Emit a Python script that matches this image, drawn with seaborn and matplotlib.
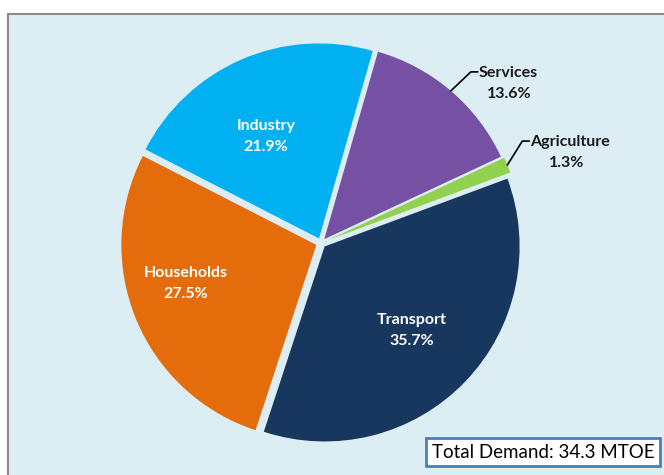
import numpy as np
import matplotlib
matplotlib.use("Agg")
import matplotlib.pyplot as plt
import seaborn as sns
from matplotlib.patches import Rectangle

# sector shares of final energy demand (%)
sectors = ["Services", "Agriculture", "Transport", "Households", "Industry"]
shares = [13.6, 1.3, 35.7, 27.5, 21.9]
colors = ["#7650A2", "#92D050", "#17375E", "#E46C0A", "#00B0F0"]
inside = ["Transport", "Households", "Industry"]
total_label = "Total Demand: 34.3 MTOE"

sns.set_theme(style="white")
plt.rcParams["font.family"] = ["Lato", "DejaVu Sans"]

W, H = 664, 475
fig = plt.figure(figsize=(W / 100, H / 100), dpi=100)
ax = fig.add_axes([0, 0, 1, 1])

# panel background with grey frame
ax.add_patch(Rectangle((8, -5), W, H - 14 + 5, facecolor="#DCEEF4",
                       edgecolor="#8C8C8C", linewidth=1.5, zorder=0))

cx, cy, R = 321, H - 243, 195
wedges, _ = ax.pie(shares, colors=colors, startangle=74, counterclock=False,
                   explode=[5, 7, 5, 5, 5], center=(cx, cy), radius=R,
                   wedgeprops=dict(linewidth=0), frame=True)
ax.set_xlim(0, W)
ax.set_ylim(0, H)
ax.set_aspect("equal")
ax.axis("off")

# label placement inside wedges: (fraction of radius, angle shift in deg)
place = {"Transport": (0.62, 0), "Households": (0.70, -6), "Industry": (0.59, 4)}
for w, name, val in zip(wedges, sectors, shares):
    mid = (w.theta1 + w.theta2) / 2
    wx, wy = w.center
    if name in inside:
        f, sh = place[name]
        a = np.deg2rad(mid + sh)
        d = f * w.r
        ax.text(wx + d * np.cos(a), wy + d * np.sin(a), f"{name}\n{val}%",
                ha="center", va="center", color="white", fontsize=11.5,
                fontweight="bold", linespacing=1.6)
    else:
        a = np.deg2rad(mid)
        px, py = wx + w.r * np.cos(a), wy + w.r * np.sin(a)
        if name == "Services":
            ex, ey, tw = px + 20, py + 19, 60
        else:
            ex, ey, tw = px + 15, py + 24, 72
        ax.plot([px, ex, ex + 7], [py, ey, ey], color="black", lw=1.2)
        ax.text(ex + 8, ey - 1, name, ha="left", va="center", fontsize=11.5,
                fontweight="bold", color="#1A1A1A")
        ax.text(ex + 8 + tw / 2, ey - 22, f"{val}%", ha="center", va="center",
                fontsize=11.5, fontweight="bold", color="#1A1A1A")

ax.text(543, H - 452, total_label, ha="center", va="center", fontsize=13.5,
        color="black",
        bbox=dict(boxstyle="square,pad=0.3", facecolor="white",
                  edgecolor="#4A7EBB", linewidth=2))

fig.savefig("out.png", dpi=100)
